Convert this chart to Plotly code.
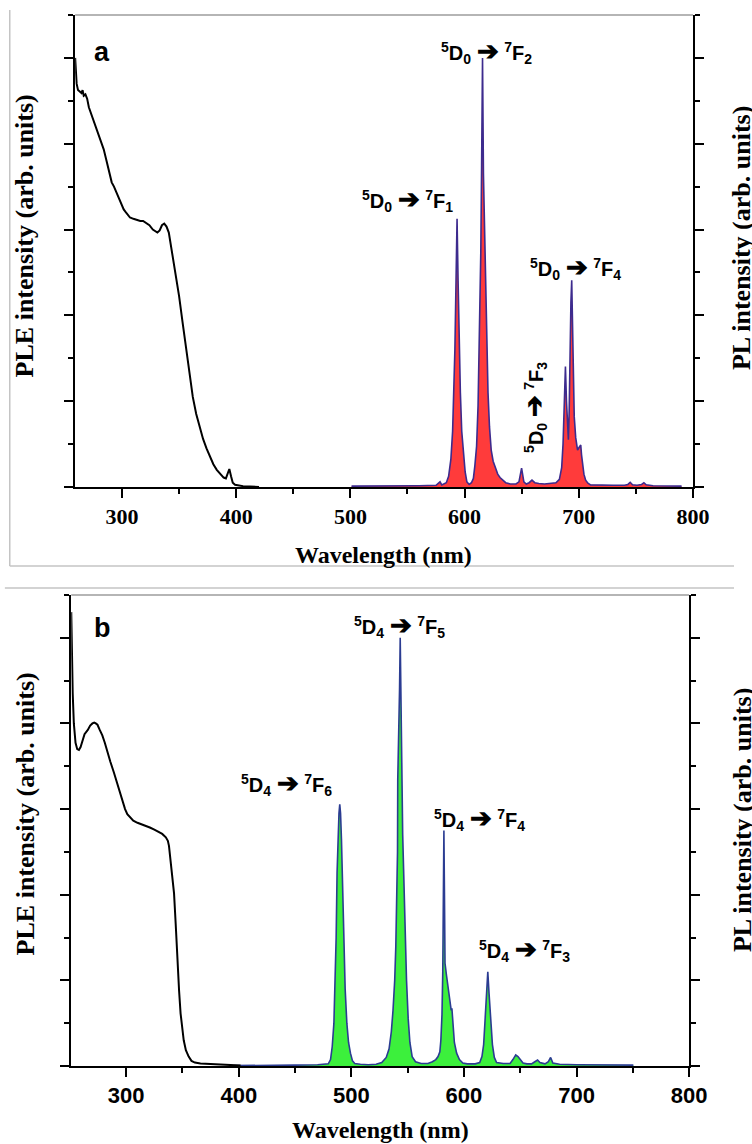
import plotly.graph_objects as go

# ---------------- Panel a: Eu3+ ----------------
ple_a_wl = [259.0, 259.5, 260.3, 261.5, 263.0, 264.5, 265.5, 266.5, 268.0, 269.5,
            271.0, 273.0, 275.5, 278.5, 281.0, 284.0, 286.5, 289.0, 291.0, 293.0,
            296.0, 298.5, 301.5, 304.0, 307.0, 310.0, 313.0, 316.0, 318.5, 321.0,
            324.0, 327.0, 329.0, 331.0, 333.0, 335.0, 337.0, 339.0, 341.0, 343.0,
            345.5, 348.0, 350.0, 353.0, 356.0, 359.0, 362.0, 365.0, 368.0, 371.0,
            374.0, 377.0, 380.0, 383.0, 386.0, 389.0, 391.0, 393.0, 394.0, 395.5,
            397.0, 399.0, 402.0, 406.0, 412.0, 420.0]
ple_a_int = [10.0, 9.75, 9.4, 9.25, 9.22, 9.18, 9.25, 9.12, 9.15, 9.05,
             8.85, 8.7, 8.5, 8.27, 8.1, 7.87, 7.6, 7.3, 7.1, 7.0,
             6.8, 6.65, 6.47, 6.38, 6.28, 6.25, 6.22, 6.2, 6.2, 6.15,
             6.1, 6.0, 5.96, 5.93, 5.98, 6.1, 6.14, 6.07, 5.93, 5.6,
             5.23, 4.8, 4.45, 3.85, 3.25, 2.65, 2.1, 1.7, 1.38, 1.12,
             0.9, 0.7, 0.53, 0.4, 0.3, 0.22, 0.2, 0.32, 0.42, 0.25,
             0.1, 0.05, 0.03, 0.02, 0.01, 0.0]

pl_a_wl = [501.0, 520.0, 540.0, 560.0, 575.0, 578.5, 580.0, 584.0, 586.0, 588.0,
           589.5, 590.5, 591.5, 592.5, 593.4, 594.3, 595.2, 596.3, 597.5, 599.0,
           600.5, 602.0, 604.0, 606.0, 607.7, 609.0, 610.5, 611.8, 612.8, 613.6,
           614.2, 614.9, 615.7, 616.5, 617.7, 618.6, 619.4, 620.5, 621.8, 623.3,
           625.0, 626.8, 629.0, 631.0, 633.3, 636.0, 640.0, 645.0, 647.6, 649.9,
           651.9, 654.0, 656.5, 659.0, 661.5, 665.0, 670.0, 675.0, 680.0, 683.0,
           685.0, 686.2, 687.2, 688.3, 689.2, 690.1, 690.9, 691.6, 692.3, 693.1,
           693.8, 694.6, 695.3, 696.0, 697.3, 698.9, 700.2, 701.7, 702.4, 703.1,
           704.5, 706.0, 708.0, 710.3, 720.0, 730.0, 740.0, 743.0, 745.0, 747.0,
           751.0, 755.0, 757.0, 759.0, 765.0, 775.0, 790.0]
pl_a_int = [0.02, 0.02, 0.02, 0.03, 0.04, 0.12, 0.05, 0.1, 0.25, 0.65,
            1.3, 2.2, 3.2, 4.8, 6.25, 4.8, 3.3, 2.2, 1.3, 0.8,
            0.35, 0.12, 0.06, 0.1, 0.2, 0.5, 0.95, 1.9, 3.2, 4.5,
            5.5, 7.5, 10.0, 7.3, 5.5, 4.2, 3.2, 2.2, 1.4, 0.86,
            0.6, 0.45, 0.3, 0.22, 0.16, 0.1, 0.07, 0.07, 0.12, 0.44,
            0.12, 0.07, 0.1, 0.16, 0.1, 0.08, 0.07, 0.08, 0.1, 0.18,
            0.45, 1.0, 2.0, 2.81, 2.0, 1.3, 1.1, 1.8, 3.2, 4.3,
            4.82, 3.8, 2.5, 1.64, 1.15, 0.86, 0.92, 0.98, 0.75, 0.55,
            0.3, 0.16, 0.09, 0.05, 0.04, 0.04, 0.04, 0.06, 0.11, 0.05,
            0.04, 0.06, 0.1, 0.05, 0.03, 0.02, 0.02]

# ---------------- Panel b: Tb3+ ----------------
ple_b_wl = [251.2, 251.8, 252.5, 253.5, 255.0, 256.5, 258.0, 259.5, 261.0, 263.0,
            265.9, 268.0, 270.0, 271.6, 273.0, 274.5, 276.5, 278.8, 281.0, 283.2,
            286.0, 289.0, 292.0, 294.7, 297.0, 299.0, 301.0, 303.5, 306.3, 310.0,
            314.0, 317.8, 321.0, 325.0, 329.4, 332.0, 335.2, 337.0, 338.0, 339.0,
            340.0, 341.0, 342.5, 344.0, 345.4, 347.0, 348.3, 350.0, 351.1, 353.0,
            355.5, 358.0, 361.0, 366.0, 372.6, 380.0, 390.0, 401.6]
ple_b_int = [10.6, 9.6, 8.7, 8.0, 7.55, 7.4, 7.38, 7.45, 7.6, 7.75,
             7.85, 7.95, 8.0, 8.02, 8.0, 7.97, 7.85, 7.72, 7.55, 7.33,
             7.1, 6.86, 6.6, 6.4, 6.15, 6.0, 5.88, 5.8, 5.73, 5.68,
             5.64, 5.62, 5.57, 5.52, 5.46, 5.42, 5.34, 5.26, 5.14, 4.9,
             4.6, 4.3, 4.03, 3.3, 2.47, 1.75, 1.23, 0.85, 0.6, 0.37,
             0.22, 0.12, 0.08, 0.06, 0.05, 0.04, 0.02, 0.01]

pl_b_wl = [396.0, 420.0, 450.0, 470.0, 477.0, 479.5, 481.5, 483.0, 484.5, 485.5,
           486.5, 487.3, 488.2, 489.0, 489.7, 490.4, 491.2, 492.2, 493.2, 494.5,
           496.0, 497.5, 499.2, 501.0, 503.0, 508.0, 515.0, 522.0, 527.0, 531.0,
           533.5, 535.5, 537.0, 538.5, 539.5, 540.5, 541.0, 541.2, 542.0, 542.8,
           543.4, 544.0, 544.8, 545.6, 546.4, 547.5, 549.0, 550.5, 552.0, 554.0,
           557.0, 562.0, 568.0, 572.0, 575.0, 577.0, 578.6, 579.5, 580.5, 581.2,
           581.7, 582.2, 582.7, 583.2, 584.5, 586.0, 587.5, 588.7, 589.3, 590.3,
           591.5, 593.5, 596.0, 599.0, 603.0, 610.0, 614.0, 616.0, 617.5, 618.6,
           619.8, 621.2, 622.3, 624.0, 625.3, 627.0, 629.0, 635.0, 641.0, 643.5,
           646.0, 648.0, 650.0, 652.5, 656.0, 660.0, 663.0, 665.4, 667.5, 672.0,
           675.0, 677.0, 679.0, 685.0, 700.0, 720.0, 750.5]
pl_b_int = [0.01, 0.01, 0.02, 0.03, 0.04, 0.05, 0.15, 0.45, 1.0, 1.8,
            3.0, 4.5, 5.4, 5.9, 6.11, 5.9, 5.3, 4.3, 3.0, 1.8,
            1.0, 0.55, 0.3, 0.12, 0.06, 0.04, 0.03, 0.04, 0.08, 0.2,
            0.4, 0.8, 1.3, 2.0, 2.8, 4.2, 5.0, 6.67, 7.6, 8.8,
            10.0, 8.2, 6.6, 5.4, 4.6, 3.3, 2.0, 1.1, 0.55, 0.22,
            0.1, 0.06, 0.06, 0.1, 0.15, 0.22, 0.33, 0.6, 1.2, 2.2,
            4.0, 5.5, 4.0, 2.4, 2.12, 1.85, 1.5, 1.3, 1.35, 0.85,
            0.55, 0.3, 0.15, 0.07, 0.05, 0.05, 0.08, 0.22, 0.5, 1.0,
            1.7, 2.2, 1.7, 1.0, 0.5, 0.2, 0.08, 0.06, 0.06, 0.15,
            0.26, 0.22, 0.16, 0.07, 0.05, 0.05, 0.1, 0.14, 0.08, 0.05,
            0.1, 0.2, 0.07, 0.04, 0.03, 0.02, 0.02]

x_range_a = [259, 800]
x_range_b = [251.2, 800]
y_range = [0, 11]

W, H = 752, 1144

def px_x(p):
    return p / W

def px_y(p):
    return 1 - p / H

SANS = "Liberation Sans, Arial, sans-serif"
SERIF = "Liberation Serif, Times New Roman, serif"

fig = go.Figure()

fig.add_trace(go.Scatter(x=pl_a_wl, y=pl_a_int, mode="lines", fill="tozeroy",
                         fillcolor="#ff3b3b", line=dict(color="#3d2b8e", width=1.6),
                         xaxis="x", yaxis="y", showlegend=False))
fig.add_trace(go.Scatter(x=ple_a_wl, y=ple_a_int, mode="lines",
                         line=dict(color="black", width=2),
                         xaxis="x", yaxis="y", showlegend=False))
fig.add_trace(go.Scatter(x=pl_b_wl, y=pl_b_int, mode="lines", fill="tozeroy",
                         fillcolor="#3cf03c", line=dict(color="#2b3c92", width=1.6),
                         xaxis="x2", yaxis="y2", showlegend=False))
fig.add_trace(go.Scatter(x=ple_b_wl, y=ple_b_int, mode="lines",
                         line=dict(color="black", width=2),
                         xaxis="x2", yaxis="y2", showlegend=False))

common_axis = dict(showline=True, linecolor="black", linewidth=2, showgrid=False,
                   zeroline=False, ticks="outside", ticklen=9, tickwidth=2,
                   tickcolor="black")

xa_common = dict(common_axis, dtick=100, tick0=0,
                 minor=dict(ticks="outside", ticklen=5, tickwidth=2,
                            tickcolor="black", dtick=50, tick0=0, showgrid=False))
ya_common = dict(common_axis, dtick=2, tick0=0, showticklabels=False, mirror="ticks",
                 minor=dict(ticks="outside", ticklen=5, tickwidth=2,
                            tickcolor="black", dtick=1, tick0=0, showgrid=False))

fig.update_layout(
    width=W, height=H, autosize=False,
    margin=dict(l=0, r=0, t=0, b=0),
    paper_bgcolor="white", plot_bgcolor="white",
    xaxis=dict(xa_common, domain=[px_x(77), px_x(710)], anchor="y",
               range=x_range_a,
               tickfont=dict(family=SERIF, size=22, color="black", weight="bold")),
    yaxis=dict(ya_common, domain=[px_y(487), px_y(15)], anchor="x", range=y_range),
    xaxis2=dict(xa_common, domain=[px_x(73), px_x(706)], anchor="y2",
                range=x_range_b,
                tickfont=dict(family=SANS, size=22, color="black", weight="bold")),
    yaxis2=dict(ya_common, domain=[px_y(1066), px_y(595)], anchor="x2", range=y_range),
)

# grey frame lines around the panels and the top edge of each plot area
frame = "#c4c4c4"
shapes = [
    dict(type="line", xref="paper", yref="paper", x0=px_x(10), x1=px_x(10),
         y0=px_y(10), y1=px_y(566), line=dict(color=frame, width=1.5)),
    dict(type="line", xref="paper", yref="paper", x0=px_x(10), x1=1,
         y0=px_y(566), y1=px_y(566), line=dict(color=frame, width=1.5)),
    dict(type="line", xref="paper", yref="paper", x0=px_x(5), x1=1,
         y0=px_y(588), y1=px_y(588), line=dict(color=frame, width=1.5)),
    dict(type="line", xref="x domain", yref="y domain", x0=0, x1=1, y0=1, y1=1,
         line=dict(color="#9c9c9c", width=1.5)),
    dict(type="line", xref="x2 domain", yref="y2 domain", x0=0, x1=1, y0=1, y1=1,
         line=dict(color="#9c9c9c", width=1.5)),
]
fig.update_layout(shapes=shapes)

ARROW = '<span style="font-size:26px">\u2794</span>'

def trans(up, low):
    return ("<sup>5</sup>D<sub>%s</sub> %s <sup>7</sup>F<sub>%s</sub>"
            % (up, ARROW, low))

lab_font = dict(family=SANS, size=20, color="black", weight="bold")
panel_font = dict(family=SANS, size=27, color="black", weight="bold")
title_font = dict(family=SERIF, size=24, color="black", weight="bold")
ytitle_font = dict(family=SERIF, size=26, color="black", weight="bold")

ann = []
# panel a labels
ann.append(dict(text="a", x=282.9, y=10.14, xref="x", yref="y", font=panel_font))
ann.append(dict(text=trans("0", "2"), x=618.8, y=10.16, xref="x", yref="y", font=lab_font))
ann.append(dict(text=trans("0", "1"), x=550.4, y=6.71, xref="x", yref="y", font=lab_font))
ann.append(dict(text=trans("0", "4"), x=697.4, y=5.12, xref="x", yref="y", font=lab_font))
ann.append(dict(text=trans("0", "3"), x=661.0, y=1.85, xref="x", yref="y",
                textangle=-90, font=lab_font))
# panel b labels
ann.append(dict(text="b", x=278.9, y=10.22, xref="x2", yref="y2", font=panel_font))
ann.append(dict(text=trans("4", "5"), x=542.5, y=10.29, xref="x2", yref="y2", font=lab_font))
ann.append(dict(text=trans("4", "6"), x=442.8, y=6.6, xref="x2", yref="y2", font=lab_font))
ann.append(dict(text=trans("4", "4"), x=614.0, y=5.79, xref="x2", yref="y2", font=lab_font))
ann.append(dict(text=trans("4", "3"), x=653.9, y=2.71, xref="x2", yref="y2", font=lab_font))

# axis titles (the right-hand ones run off the page edge)
ann.append(dict(text="Wavelength (nm)", x=px_x(393), y=px_y(555), xref="paper",
                yref="paper", font=title_font))
ann.append(dict(text="Wavelength (nm)", x=px_x(390), y=px_y(1130), xref="paper",
                yref="paper", font=title_font))
ann.append(dict(text="PLE intensity (arb. units)", x=px_x(26), y=px_y(236),
                xref="paper", yref="paper", textangle=-90, font=ytitle_font))
ann.append(dict(text="PL intensity (arb. units)", x=px_x(751), y=px_y(238),
                xref="paper", yref="paper", textangle=-90, font=ytitle_font,
                xshift=9))
ann.append(dict(text="PLE intensity (arb. units)", x=px_x(26), y=px_y(814),
                xref="paper", yref="paper", textangle=-90, font=ytitle_font))
ann.append(dict(text="PL intensity (arb. units)", x=px_x(751), y=px_y(820),
                xref="paper", yref="paper", textangle=-90, font=ytitle_font,
                xshift=9))

for a in ann:
    a.setdefault("showarrow", False)
    a.setdefault("xanchor", "center")
    a.setdefault("yanchor", "middle")
fig.update_layout(annotations=ann)

fig.write_html("out.html")
